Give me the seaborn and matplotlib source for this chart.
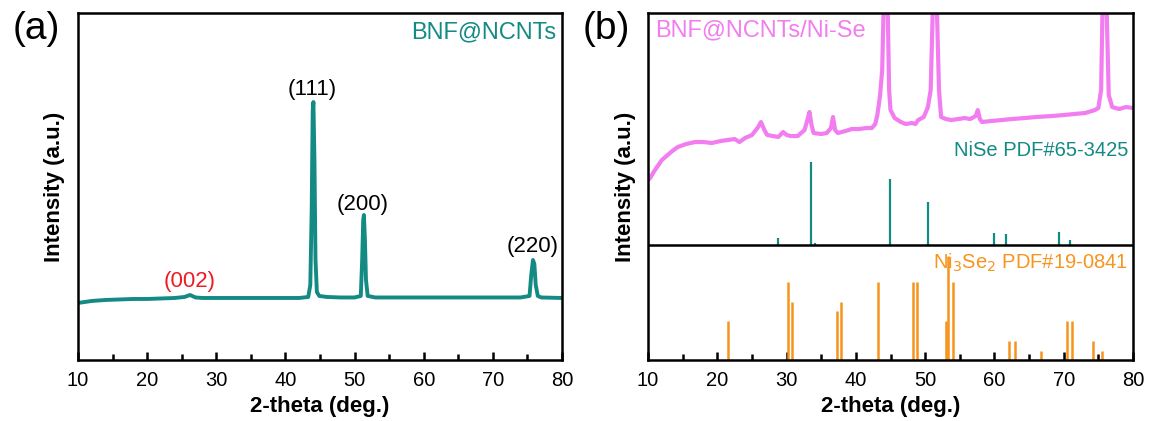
import numpy as np
import pandas as pd
import matplotlib
matplotlib.use("Agg")
import matplotlib.pyplot as plt
from matplotlib.ticker import MultipleLocator
import seaborn as sns

# ---- panel (a): BNF@NCNTs pattern (2-theta, intensity a.u.)
theta_a = [10.0, 12.0, 14.0, 16.0, 18.0, 20.0, 22.0, 24.0, 25.4, 26.2, 27.0, 28.0,
           30.0, 32.0, 34.0, 36.0, 38.0, 40.0, 42.0, 43.3, 43.6, 43.8, 43.95, 44.05,
           44.2, 44.35, 44.55, 44.9, 46.0, 48.0, 50.0, 50.9, 51.1, 51.25, 51.35, 51.5,
           51.65, 51.9, 53.0, 55.0, 60.0, 65.0, 70.0, 74.0, 75.3, 75.55, 75.8, 76.0,
           76.2, 76.5, 77.0, 80.0]
inten_a = [57, 59, 60, 60.5, 61, 61, 61.5, 62, 63, 65, 62.5, 62,
           62, 62, 62, 62, 62, 62, 62, 63, 75, 150, 250, 258,
           200, 100, 68, 64, 63, 62.5, 62.5, 64, 100, 140, 145, 120,
           80, 64, 62.5, 62.5, 62.5, 62.5, 62.5, 62.5, 64, 85, 100, 96,
           75, 64, 62.5, 62]

# ---- panel (b): BNF@NCNTs/Ni-Se pattern
theta_b = [10.0, 10.3, 11.0, 12.0, 12.5, 13.5, 14.3, 15.5, 16.8, 18.0, 19.2, 20.5,
           21.5, 22.5, 23.2, 24.0, 25.0, 25.8, 26.3, 26.8, 27.2, 28.0, 28.8, 29.5,
           30.0, 30.6, 31.6, 32.6, 33.0, 33.3, 33.6, 33.9, 35.0, 35.8, 36.4, 36.7,
           37.0, 37.4, 38.5, 39.4, 40.5, 41.5, 42.3, 42.8, 43.1, 43.5, 43.8, 44.0,
           44.3, 44.6, 44.8, 45.0, 45.6, 46.5, 47.2, 48.1, 48.6, 49.0, 49.8, 50.4,
           50.8, 51.1, 51.4, 51.7, 52.0, 52.3, 53.0, 53.8, 54.8, 55.7, 56.5, 57.3,
           57.6, 57.9, 58.2, 59.5, 61.1, 62.5, 64.4, 66.0, 68.3, 70.0, 71.5, 73.1,
           74.5, 75.0, 75.4, 75.6, 75.9, 76.2, 76.5, 77.0, 78.0, 79.0, 80.0]
inten_b = [180, 182, 190, 200, 203, 209, 213, 216, 218, 218, 217, 219,
           220, 221, 218, 222, 225, 232, 238, 230, 225, 224, 223, 228,
           225, 224, 224, 230, 240, 248, 235, 227, 226, 227, 232, 243,
           230, 227, 229, 231, 231, 232, 232, 236, 245, 265, 290, 350,
           420, 350, 270, 250, 242, 238, 236, 237, 236, 240, 243, 253,
           270, 350, 420, 350, 270, 243, 241, 240, 241, 242, 241, 244,
           250, 241, 238, 239, 240, 241, 242, 243, 244, 245, 246, 247,
           250, 252, 270, 350, 420, 350, 265, 253, 251, 253, 252]

# reference sticks
nise_pos = [28.8, 33.5, 34.1, 44.9, 50.4, 59.9, 61.7, 69.3, 70.9]
nise_int = [7, 83, 2, 66, 43, 12, 11, 13, 5]
ni3se2_pos = [21.5, 30.2, 30.8, 37.3, 37.8, 43.2, 48.2, 48.8, 53.0, 53.3, 54.0,
              62.1, 63.0, 66.7, 70.5, 71.2, 74.2, 75.5]
ni3se2_int = [39, 78, 58, 49, 58, 78, 78, 78, 39, 104, 78,
              19, 19, 9, 39, 39, 19, 9]

TEAL = "#138a84"
PINK = "#f27df0"
ORANGE = "#f7941d"
RED = "#ec1c24"

sns.set_style("ticks")
plt.rcParams["font.family"] = ["Liberation Sans", "DejaVu Sans"]
plt.rcParams["text.color"] = "black"
plt.rcParams["xtick.color"] = "black"
plt.rcParams["axes.labelcolor"] = "black"

fig = plt.figure(figsize=(11.5, 4.21), dpi=100)
ax_a = fig.add_axes([0.0678, 0.145, 0.4209, 0.824])
ax_b = fig.add_axes([0.5635, 0.145, 0.4217, 0.824])

df_a = pd.DataFrame({"theta": theta_a, "intensity": inten_a})
df_b = pd.DataFrame({"theta": theta_b, "intensity": inten_b})

sns.lineplot(data=df_a, x="theta", y="intensity", ax=ax_a, color=TEAL, lw=2.8)
sns.lineplot(data=df_b, x="theta", y="intensity", ax=ax_b, color=PINK, lw=3)

# NiSe sticks sit on the divider line
nise_base = 115
ax_b.vlines(nise_pos, nise_base, np.array(nise_int) + nise_base, color=TEAL, lw=1.6)
ax_b.vlines(ni3se2_pos, 0, ni3se2_int, color=ORANGE, lw=1.8)
ax_b.axhline(nise_base, color="black", lw=1.8)

for ax in (ax_a, ax_b):
    ax.set_xlim(10, 80)
    ax.set_ylim(0, 347)
    ax.xaxis.set_major_locator(MultipleLocator(10))
    ax.xaxis.set_minor_locator(MultipleLocator(5))
    ax.tick_params(axis="x", which="major", direction="in", length=6, width=1.8,
                   labelsize=14.5, pad=8)
    ax.tick_params(axis="x", which="minor", direction="in", length=4, width=1.8)
    ax.set_yticks([])
    for s in ax.spines.values():
        s.set_linewidth(1.8)
        s.set_color("black")
        s.set_visible(True)
    ax.set_xlabel("2-theta (deg.)", fontsize=16, fontweight="bold", labelpad=4)
    ax.set_ylabel("Intensity (a.u.)", fontsize=16, fontweight="bold", labelpad=9)

# panel (a) labels
ax_a.text(43.9, 271, "(111)", fontsize=16, ha="center", va="center")
ax_a.text(51.2, 155, "(200)", fontsize=16, ha="center", va="center")
ax_a.text(75.8, 113, "(220)", fontsize=16, ha="center", va="center")
ax_a.text(26.2, 78, "(002)", fontsize=16, ha="center", va="center", color=RED)
ax_a.text(79.2, 328, "BNF@NCNTs", fontsize=17, ha="right", va="center", color=TEAL)

# panel (b) labels
ax_b.text(11.0, 330, "BNF@NCNTs/Ni-Se", fontsize=17, ha="left", va="center", color=PINK)
ax_b.text(79.3, 210, "NiSe PDF#65-3425", fontsize=14.5, ha="right", va="center", color=TEAL)
ax_b.text(79.3, 97, r"Ni$_3$Se$_2$ PDF#19-0841", fontsize=14.5, ha="right", va="center",
          color=ORANGE)

fig.text(0.032, 0.93, "(a)", fontsize=28, ha="center", va="center")
fig.text(0.527, 0.93, "(b)", fontsize=28, ha="center", va="center")

fig.savefig("out.png", dpi=100)
